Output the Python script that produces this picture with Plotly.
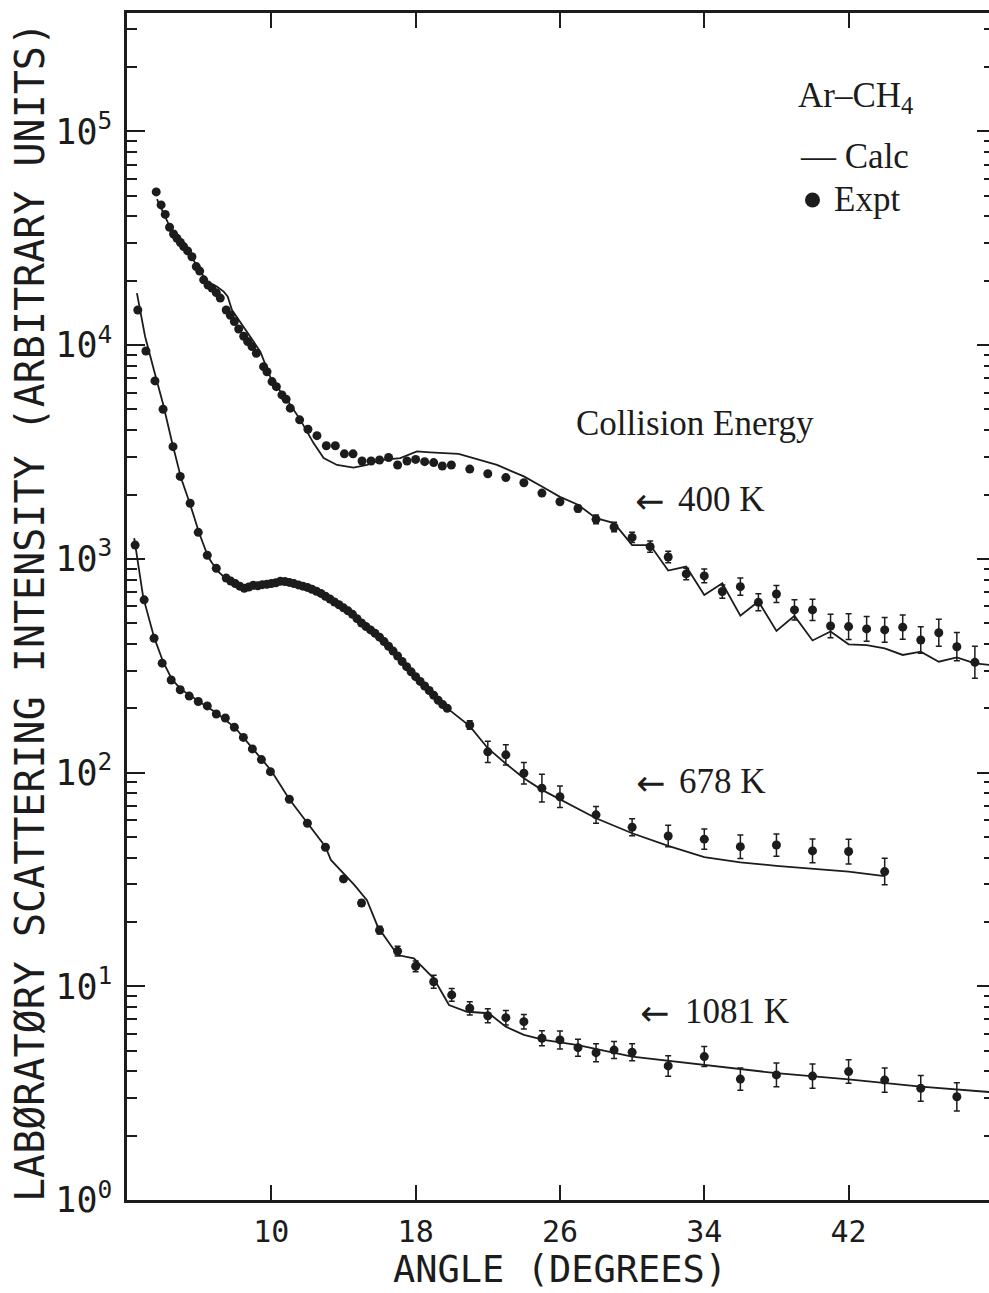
import plotly.graph_objects as go

# ---------------- data ----------------
# 400 K experiment
x400 = [3.62, 3.89, 4.12, 4.36, 4.58, 4.77, 4.96, 5.14, 5.36, 5.60, 5.84, 6.03, 6.25, 6.49,
        6.71, 6.95, 7.17, 7.50, 7.73, 7.95, 8.19, 8.47, 8.69, 8.93, 9.17, 9.57, 9.76, 10.04,
        10.28, 10.59, 10.82, 11.05, 11.57, 12.03, 12.53, 13.05, 13.55, 14.05, 14.53, 15.03,
        15.53, 16.00, 16.50, 17.00, 17.52, 18.00, 18.50, 19.00, 19.48, 19.98,
        21, 22, 23, 24, 25, 26, 27, 28, 29, 30, 31, 32, 33, 34, 35, 36, 37, 38, 39, 40,
        41, 42, 43, 44, 45, 46, 47, 48, 49]
y400 = [52100, 45300, 40900, 35600, 33100, 31600, 30200, 28900, 27600, 25900, 23300, 22200,
        20200, 19100, 18500, 17600, 16600, 14600, 13800, 12900, 11900, 11000, 10400, 9840,
        9160, 7930, 7510, 6750, 6390, 5850, 5580, 5070, 4470, 4040, 3770, 3380, 3380, 3100,
        3100, 2870, 2870, 2900, 2980, 2750, 2870, 2920, 2850, 2820, 2720, 2750,
        2630, 2500, 2400, 2270, 2030, 1850, 1720, 1530, 1410, 1260, 1140, 1020, 850, 832,
        703, 741, 626, 685, 577, 577, 485, 482, 470, 465, 479, 417, 451, 388, 328]
# error half-width in decades
e400 = [0] * 50 + [0, 0, 0, 0, 0.01, 0.012, 0.015, 0.02, 0.022, 0.024, 0.026, 0.027, 0.027,
                   0.032, 0.031, 0.04, 0.04, 0.04, 0.047, 0.05, 0.055, 0.06, 0.058, 0.058,
                   0.057, 0.062, 0.063, 0.066, 0.075]

# 400 K calculation
xc400 = [3.66, 4.5, 5.5, 6.0, 6.43, 6.98, 7.36, 7.58, 7.82, 9.39, 10.0, 10.87, 11.61, 12.34,
         12.9, 13.64, 14.56, 15.3, 16.04, 17.15, 18.07, 18.81, 20.38, 22.51, 24.0, 25, 26, 27,
         28, 29, 30, 31, 32, 33, 34, 35, 36, 37, 38, 39, 40, 41, 42, 43, 44, 45, 46, 47, 48,
         49, 50]
yc400 = [48200, 34000, 26500, 22500, 19800, 18800, 17800, 16900, 14600, 9330, 6900, 5550,
         4470, 3480, 2960, 2750, 2670, 2750, 2900, 2960, 3180, 3150, 3100, 2750, 2430, 2180,
         1950, 1790, 1550, 1470, 1160, 1160, 881, 920, 678, 769, 542, 632, 460, 541, 415, 457,
         398, 395, 381, 355, 368, 330, 346, 324, 318]

# 678 K experiment
x678 = [2.6, 3.05, 3.55, 4.0, 4.55, 4.95, 5.5, 5.95, 6.45, 6.95,
        7.5, 7.75, 8.0, 8.25, 8.5, 8.75, 9.0, 9.25, 9.5, 9.75, 10.0, 10.25, 10.5, 10.75, 11.0,
        11.25, 11.5, 11.75, 12.0, 12.25, 12.5, 12.75, 13.0, 13.25, 13.5, 13.75, 14.0, 14.25,
        14.5, 14.75, 15.0, 15.25, 15.5, 15.75, 16.0, 16.25, 16.5, 16.75, 17.0, 17.25, 17.5,
        17.75, 18.0, 18.25, 18.5, 18.75, 19.0, 19.25, 19.5, 19.75,
        21, 22, 23, 24, 25, 26, 28, 30, 32, 34, 36, 38, 40, 42, 44]
y678 = [14600, 9390, 6800, 5010, 3350, 2430, 1820, 1330, 1040, 903,
        813, 787, 766, 745, 728, 738, 752, 748, 757, 760, 767, 773, 785, 783, 776, 766, 755,
        745, 735, 721, 705, 689, 668, 649, 628, 610, 590, 571, 550, 525, 501, 482, 465, 448,
        430, 410, 390, 370, 351, 331, 313, 296, 281, 267, 254, 242, 230, 218, 208, 200,
        167, 125, 121, 99.3, 84.5, 77.1, 63.4, 55.5, 50.5, 48.8, 45.0, 45.8, 43.0, 42.7, 34.4]
e678 = [0] * 60 + [0.02, 0.05, 0.047, 0.05, 0.065, 0.05, 0.039, 0.04, 0.05, 0.047, 0.055,
                   0.052, 0.056, 0.058, 0.062]

# 678 K calculation
xc678 = [2.55, 3.0, 3.5, 4.0, 4.5, 5.0, 5.5, 6.0, 6.5, 7.0, 7.5, 8.0, 8.5, 9.0, 10.0, 10.7,
         11.5, 12.5, 13.5, 14.5, 15.5, 16.5, 17.5, 18.5, 19.5, 21, 22, 23, 24, 25, 28, 30, 32,
         34, 36, 38, 40, 42, 44]
yc678 = [17500, 11000, 7600, 5300, 3500, 2380, 1800, 1320, 1020, 880, 805, 765, 730, 750,
         767, 788, 770, 712, 628, 546, 465, 392, 313, 254, 208, 165, 130, 110, 94, 83, 61.1,
         52.0, 45.4, 40.2, 38.0, 36.6, 35.6, 34.4, 32.8]

# 1081 K experiment
x1081 = [2.45, 2.95, 3.5, 3.95, 4.45, 4.95, 5.45, 5.95, 6.45, 6.95, 7.45, 7.95, 8.45, 8.95,
         9.45, 9.95, 11, 12, 13, 14, 15, 16, 17, 18, 19, 20, 21, 22, 23, 24, 25, 26, 27, 28,
         29, 30, 32, 34, 36, 38, 40, 42, 44, 46, 48]
y1081 = [1160, 643, 425, 325, 271, 244, 228, 215, 205, 188, 180, 163, 146, 129, 115, 101,
         75.0, 57.9, 44.7, 31.8, 24.5, 18.3, 14.6, 12.4, 10.5, 9.11, 7.89, 7.28, 7.13, 6.83,
         5.71, 5.61, 5.16, 4.89, 5.03, 4.91, 4.24, 4.69, 3.68, 3.85, 3.80, 3.99, 3.64, 3.33,
         3.04]
e1081 = [0] * 19 + [0.012, 0.015, 0.018, 0.023, 0.025, 0.03, 0.03, 0.031, 0.033, 0.034, 0.034,
                    0.035, 0.042, 0.04, 0.042, 0.04, 0.04, 0.048, 0.047, 0.052, 0.055, 0.057,
                    0.055, 0.057, 0.06, 0.066]

# 1081 K calculation
xc1081 = [2.4, 2.9, 3.5, 4.0, 4.5, 5.0, 6.0, 7.0, 8.0, 9.0, 10.0, 11.0, 12.0, 13.0, 13.3,
          14.6, 15.3, 15.9, 17.0, 17.9, 19.0, 19.85, 20.85, 22.05, 23.0, 24.0, 25.1, 27, 30,
          34, 38, 42, 46, 50]
yc1081 = [1250, 660, 430, 330, 272, 245, 215, 189, 162, 128, 102, 75, 58, 45, 39, 29.8, 25.3,
          19.0, 14.0, 13.5, 10.9, 8.17, 7.6, 7.48, 6.47, 5.92, 5.61, 5.31, 4.69, 4.29, 3.92,
          3.67, 3.39, 3.19]

x_ticks = [10, 18, 26, 34, 42, 50]
x_tick_text = ["10", "18", "26", "34", "42", "50"]
y_ticks = [1, 10, 100, 1000, 10000, 100000]
y_tick_text = ["10<sup>0</sup>", "10<sup>1</sup>", "10<sup>2</sup>", "10<sup>3</sup>",
               "10<sup>4</sup>", "10<sup>5</sup>"]
y_minor = [m * d for d in [1, 10, 100, 1000, 10000, 100000] for m in range(2, 10)]

# ---------------- layout geometry ----------------
W, H = 989, 1293
L, R, T, B = 127, 0, 13, 93
PW, PH = W - L - R, H - T - B
INK = "#1c1c1c"
PLOT_FONT = "DejaVu Sans Mono"
SERIF = "Liberation Serif"


def px(x):
    return (x - L) / PW


def py(y):
    return (H - B - y) / PH


def err(ys, es, up=True):
    if up:
        return [v * (10 ** e - 1) for v, e in zip(ys, es)]
    return [v * (1 - 10 ** (-e)) for v, e in zip(ys, es)]


fig = go.Figure()

for xc, yc in [(xc400, yc400), (xc678, yc678), (xc1081, yc1081)]:
    fig.add_trace(go.Scatter(x=xc, y=yc, mode="lines",
                             line=dict(color=INK, width=1.8), showlegend=False,
                             hoverinfo="skip"))

for xs, ys, es in [(x400, y400, e400), (x678, y678, e678), (x1081, y1081, e1081)]:
    fig.add_trace(go.Scatter(
        x=xs, y=ys, mode="markers",
        marker=dict(color=INK, size=9, line=dict(width=0)),
        error_y=dict(type="data", symmetric=False, array=err(ys, es, True),
                     arrayminus=err(ys, es, False), color=INK, thickness=1.5, width=3),
        showlegend=False))

# dummy trace for the right-hand axis
fig.add_trace(go.Scatter(x=[None], y=[None], yaxis="y2", showlegend=False))

x_range = [2, 2 + PW / 18.04]
y_range = [0, 5.554]

fig.update_layout(
    width=W, height=H,
    margin=dict(l=L, r=R, t=T, b=B, pad=0),
    paper_bgcolor="white", plot_bgcolor="white",
    showlegend=False,
    xaxis=dict(range=x_range, showline=True, linecolor=INK, linewidth=2.5,
               mirror="ticks", ticks="inside", ticklen=15, tickwidth=2, tickcolor=INK,
               tickvals=x_ticks, ticktext=x_tick_text, showgrid=False, zeroline=False,
               tickfont=dict(family=PLOT_FONT, size=30, color=INK), ticklabelstandoff=3),
    yaxis=dict(type="log", range=y_range, showline=True, linecolor=INK, linewidth=2.5,
               mirror=False, ticks="inside", ticklen=18, tickwidth=2, tickcolor=INK,
               tickvals=y_ticks, ticktext=y_tick_text, showgrid=False, zeroline=False,
               tickfont=dict(family=PLOT_FONT, size=35, color=INK), ticklabelstandoff=5,
               minor=dict(ticks="inside", ticklen=10, tickwidth=2, tickcolor=INK,
                          tickvals=y_minor, showgrid=False)),
    yaxis2=dict(type="log", range=y_range, overlaying="y", side="right", showline=False,
                ticks="inside", ticklen=12, tickwidth=2, tickcolor=INK, tickvals=y_ticks,
                showticklabels=False, showgrid=False, zeroline=False,
                minor=dict(ticks="inside", ticklen=5, tickwidth=2, tickcolor=INK,
                           tickvals=y_minor, showgrid=False)),
)

ann = []
serif = dict(family=SERIF, size=35, color=INK)
arrow_font = dict(family="DejaVu Sans", size=35, color=INK)
ann.append(dict(x=px(855), y=py(97), text="Ar–CH<sub>4</sub>", xanchor="center",
                yanchor="middle", font=serif))
ann.append(dict(x=px(798), y=py(156), text="— Calc", xanchor="left", yanchor="middle",
                font=serif))
ann.append(dict(x=px(832), y=py(199), text="Expt", xanchor="left", yanchor="middle",
                font=serif))
ann.append(dict(x=px(574), y=py(423), text="Collision Energy", xanchor="left",
                yanchor="middle", font=serif))
for (ax, ay, tx, ty, label) in [(633, 501, 676, 499, "400 K"),
                                (634, 783, 677, 781, "678 K"),
                                (638, 1013, 683, 1011, "1081 K")]:
    ann.append(dict(x=px(ax), y=py(ay), text="←", xanchor="left", yanchor="middle",
                    font=arrow_font))
    ann.append(dict(x=px(tx), y=py(ty), text=label, xanchor="left", yanchor="middle",
                    font=serif))
ann.append(dict(x=px(560), y=py(1269), text="ANGLE (DEGREES)", xanchor="center",
                yanchor="middle", font=dict(family=PLOT_FONT, size=37, color=INK)))
ann.append(dict(x=px(30), y=py(612), text="LABØRATØRY SCATTERING INTENSITY (ARBITRARY UNITS)",
                textangle=-90, xanchor="center", yanchor="middle",
                font=dict(family=PLOT_FONT, size=40, color=INK)))
for a in ann:
    a.update(xref="paper", yref="paper", showarrow=False)
fig.update_layout(annotations=ann)

fig.add_shape(type="circle", xref="paper", yref="paper",
              x0=px(805), x1=px(820), y0=py(207.5), y1=py(192.5),
              fillcolor=INK, line=dict(width=0))

fig.write_html("out.html")
